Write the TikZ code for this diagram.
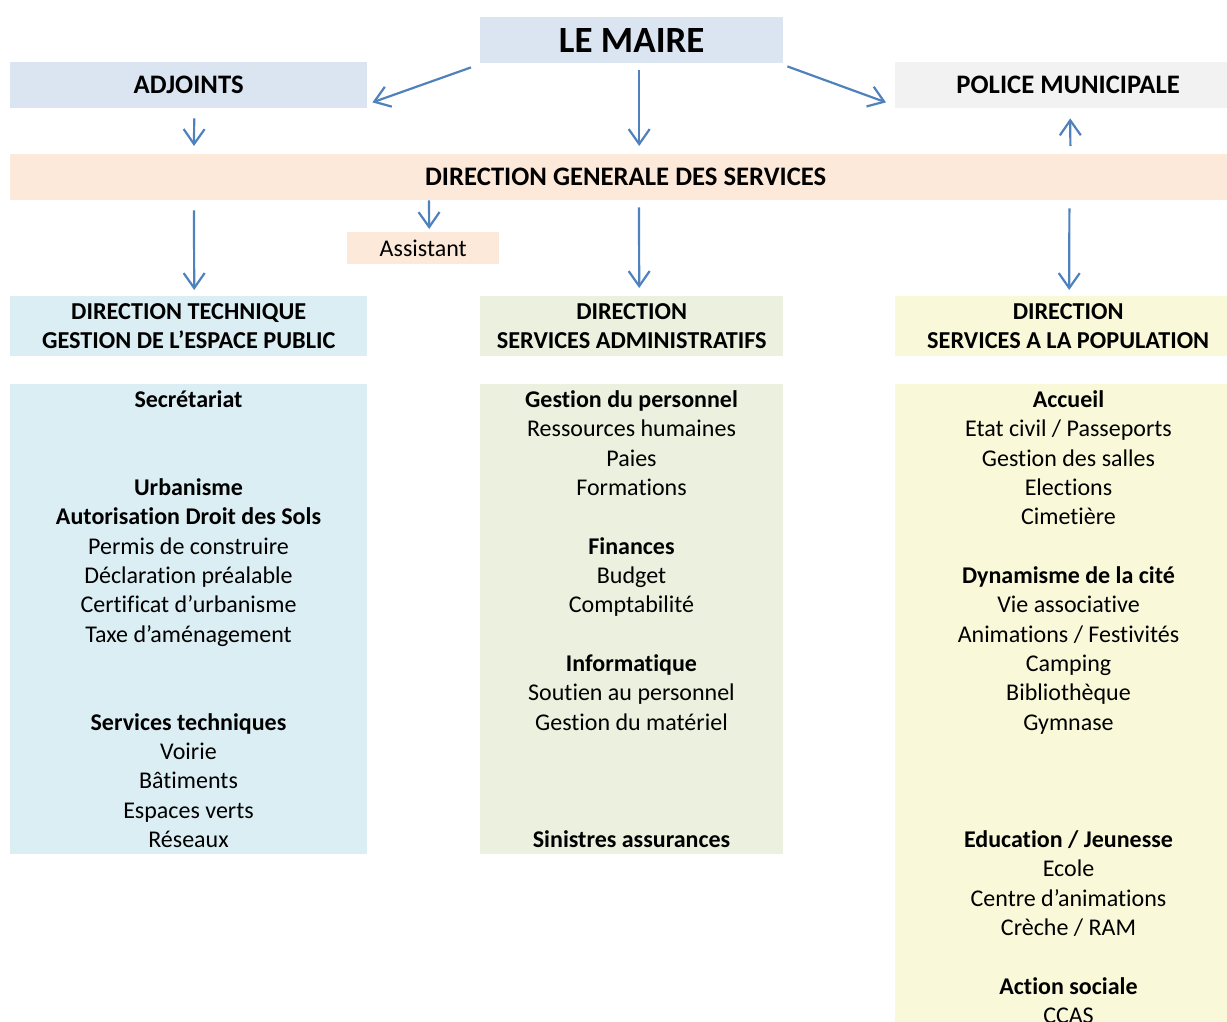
\documentclass[tikz,border=0pt]{standalone}
\usepackage{fontspec}
\setmainfont{Carlito}[Ligatures={NoCommon}]
\usetikzlibrary{arrows.meta}
\definecolor{cmaire}{HTML}{DBE5F1}
\definecolor{cpolice}{HTML}{F2F2F2}
\definecolor{cdgs}{HTML}{FDE9D9}
\definecolor{cdt}{HTML}{DAEEF3}
\definecolor{cdsa}{HTML}{EBF1DE}
\definecolor{cdsp}{HTML}{F9F9D9}
\definecolor{carrow}{HTML}{4F81BD}
\begin{document}
\begin{tikzpicture}[x=1pt,y=-1pt,
  box/.style={rectangle, inner sep=0pt, anchor=north west, align=center,
    font=\fontsize{24.3}{28.5}\selectfont\bfseries},
  topbox/.style={box, font=\fontsize{26.7}{30}\selectfont\bfseries},
  item/.style={inner sep=0pt, anchor=base, font=\fontsize{24}{29.33}\selectfont},
  arr/.style={draw=carrow, line width=2.2pt,
    -{Straight Barb[length=15pt,width=21pt,line width=2.2pt]}}]
\useasboundingbox (0,0) rectangle (1227,1021);
\clip (0,0) rectangle (1227,1021);
% top level
\node[box, fill=cmaire, minimum width=303pt, minimum height=46pt,
  font=\fontsize{37}{40}\selectfont\bfseries] (maire) at (480,17) {LE MAIRE};
\node[topbox, fill=cmaire, minimum width=357pt, minimum height=46pt] (adj) at (10,62) {ADJOINTS};
\node[topbox, fill=cpolice, minimum width=346pt, minimum height=46pt] (police) at (895,62) {POLICE MUNICIPALE};
\node[topbox, fill=cdgs, minimum width=1231pt, minimum height=46pt] (dgs) at (10,154) {DIRECTION GENERALE DES SERVICES};
\node[box, fill=cdgs, minimum width=152pt, minimum height=32pt, font=\fontsize{24}{28.5}\selectfont] (asst) at (347,232) {Assistant};
% directions
\node[box, fill=cdt, minimum width=357pt, minimum height=60pt] (dt) at (10,296) {DIRECTION TECHNIQUE\\GESTION DE L’ESPACE PUBLIC};
\node[box, fill=cdsa, minimum width=303pt, minimum height=60pt] (dsa) at (480,296) {DIRECTION\\SERVICES ADMINISTRATIFS};
\node[box, fill=cdsp, minimum width=346pt, minimum height=60pt] (dsp) at (895,296) {DIRECTION\\SERVICES A LA POPULATION};
% service panels
\node[box, fill=cdt, minimum width=357pt, minimum height=470pt] (pdt) at (10,384) {};
\node[box, fill=cdsa, minimum width=303pt, minimum height=470pt] (pdsa) at (480,384) {};
\node[box, fill=cdsp, minimum width=346pt, minimum height=660pt] (pdsp) at (895,384) {};
% texts of panels
\foreach \i/\t in {0/{\textbf{Secrétariat}}, 3/{\textbf{Urbanisme}}, 4/{\textbf{Autorisation Droit des Sols}},
  5/{Permis de construire}, 6/{Déclaration préalable}, 7/{Certificat d’urbanisme}, 8/{Taxe d’aménagement},
  11/{\textbf{Services techniques}}, 12/{Voirie}, 13/{Bâtiments}, 14/{Espaces verts}, 15/{Réseaux}}
  \node[item] (t1-\i) at (188.5,{407.5+29.33*\i}) {\t};
\foreach \i/\t in {0/{\textbf{Gestion du personnel}}, 1/{Ressources humaines}, 2/{Paies}, 3/{Formations},
  5/{\textbf{Finances}}, 6/{Budget}, 7/{Comptabilité}, 9/{\textbf{Informatique}}, 10/{Soutien au personnel},
  11/{Gestion du matériel}, 15/{\textbf{Sinistres assurances}}}
  \node[item] (t2-\i) at (631.5,{407.5+29.33*\i}) {\t};
\foreach \i/\t in {0/{\textbf{Accueil}}, 1/{Etat civil / Passeports}, 2/{Gestion des salles}, 3/{Elections},
  4/{Cimetière}, 6/{\textbf{Dynamisme de la cité}}, 7/{Vie associative}, 8/{Animations / Festivités},
  9/{Camping}, 10/{Bibliothèque}, 11/{Gymnase}, 15/{\textbf{Education / Jeunesse}}, 16/{Ecole},
  17/{Centre d’animations}, 18/{Crèche / RAM}, 20/{\textbf{Action sociale}}, 21/{CCAS}}
  \node[item] (t3-\i) at (1068.5,{407.5+29.33*\i}) {\t};
% connectors
\draw[arr] ([shift={(-9,4)}]maire.south west) -- ([shift={(5,-6)}]adj.south east);
\draw[arr] ([shift={(4,3)}]maire.south east) -- ([shift={(-9,-6)}]police.south west);
\draw[arr] ([shift={(7.5,7)}]maire.south) -- ([shift={(13.5,-8)}]dgs.north);
\draw[arr] ([shift={(5.5,10)}]adj.south) -- ([shift={(184,-8)}]dgs.north west);
\draw[arr] ([shift={(-171,-8)}]dgs.north east) -- ([shift={(2,10)}]police.south);
\draw[arr] ([shift={(184,10)}]dgs.south west) -- ([shift={(5.5,-6)}]dt.north);
\draw[arr] ([shift={(419,0)}]dgs.south west) -- ([shift={(6,-3)}]asst.north);
\draw[arr] ([shift={(629,7)}]dgs.south west) -- ([shift={(7.5,-8)}]dsa.north);
\draw[arr] ([shift={(-172,8)}]dgs.south east) -- ([shift={(1,-6)}]dsp.north);
\end{tikzpicture}
\end{document}
